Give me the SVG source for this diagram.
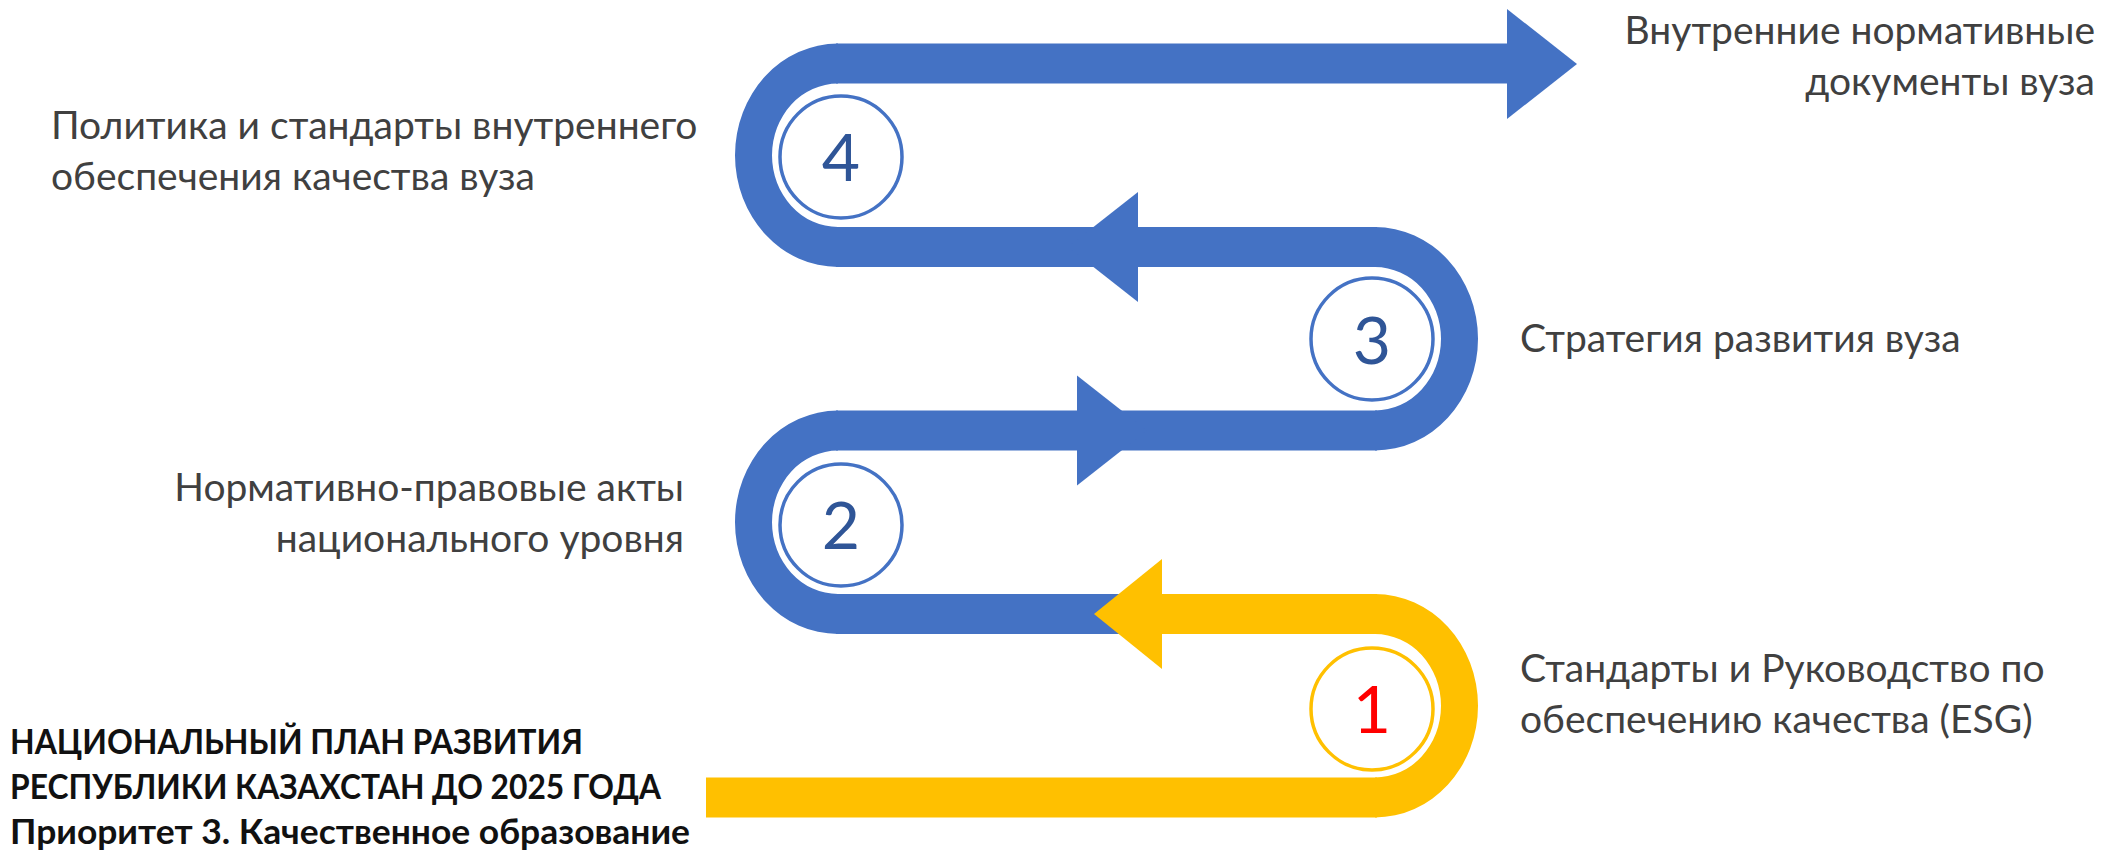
<svg xmlns="http://www.w3.org/2000/svg" width="2110" height="851" viewBox="0 0 2110 851">
<style>
.blue{fill:#4472C4}
.yellow{fill:#FFC000}
.ring{fill:#FFFFFF;stroke-width:3.5}
.rb{stroke:#4472C4}
.ry{stroke:#FFC000}
.num{font-family:Lato,"Open Sans","Noto Sans",sans-serif;font-size:66px;text-anchor:middle}
.nb{fill:#2F5597}
.nr{fill:#FF0000}
.lbl{font-family:Lato,"Open Sans","Noto Sans",sans-serif;font-size:39px;fill:#404040}
.bold{font-family:Lato,"Open Sans","Noto Sans",sans-serif;font-size:34px;font-weight:bold;fill:#111111}
</style>
<rect width="2110" height="851" fill="#FFFFFF"/>
<g id="connectors">
  <rect class="blue" x="836" y="43.5" width="673" height="40"/>
  <polygon class="blue" points="1507,9 1577,64 1507,119"/>
  <path class="blue" d="M838,43.5 A103,111.75 0 0 0 838,267 L838,227 A66,71.75 0 0 1 838,83.5 Z"/>
  <rect class="blue" x="836" y="227" width="541" height="40"/>
  <polygon class="blue" points="1138,192 1068,247 1138,302"/>
  <path class="blue" d="M1375,227 A103,111.75 0 0 1 1375,450.5 L1375,410.5 A66,71.75 0 0 0 1375,267 Z"/>
  <rect class="blue" x="836" y="410.5" width="541" height="40"/>
  <polygon class="blue" points="1077,375.5 1147,430.5 1077,485.5"/>
  <path class="blue" d="M838,410.5 A103,111.75 0 0 0 838,634 L838,594 A66,71.75 0 0 1 838,450.5 Z"/>
  <rect class="blue" x="836" y="594" width="296" height="40"/>
  <polygon class="yellow" points="1162,559 1094,614 1162,669"/>
  <rect class="yellow" x="1160" y="594" width="217" height="40"/>
  <path class="yellow" d="M1375,594 A103,111.75 0 0 1 1375,817.5 L1375,777.5 A66,71.75 0 0 0 1375,634 Z"/>
  <rect class="yellow" x="706" y="777.5" width="671" height="40"/>
</g>
<g id="node4">
  <circle class="ring rb" cx="841" cy="157" r="61"/>
  <text class="num nb" x="841" y="181">4</text>
</g>
<g id="node3">
  <circle class="ring rb" cx="1372" cy="339" r="61"/>
  <text class="num nb" x="1372" y="364">3</text>
</g>
<g id="node2">
  <circle class="ring rb" cx="841" cy="525" r="61"/>
  <text class="num nb" x="841" y="549">2</text>
</g>
<g id="node1">
  <circle class="ring ry" cx="1372" cy="709" r="61"/>
  <text class="num nr" x="1372" y="733">1</text>
</g>
<g id="label4">
  <text class="lbl" x="51" y="139">Политика и стандарты внутреннего</text>
  <text class="lbl" x="51" y="190">обеспечения качества вуза</text>
</g>
<g id="label3">
  <text class="lbl" x="1520" y="352">Стратегия развития вуза</text>
</g>
<g id="label2">
  <text class="lbl" x="684" y="501" text-anchor="end">Нормативно-правовые акты</text>
  <text class="lbl" x="684" y="552" text-anchor="end">национального уровня</text>
</g>
<g id="label1">
  <text class="lbl" x="1520" y="682">Стандарты и Руководство по</text>
  <text class="lbl" x="1520" y="733">обеспечению качества (ESG)</text>
</g>
<g id="label-out">
  <text class="lbl" x="2095" y="44" text-anchor="end">Внутренние нормативные</text>
  <text class="lbl" x="2095" y="95" text-anchor="end">документы вуза</text>
</g>
<g id="title">
  <text class="bold" x="10" y="754" textLength="573" lengthAdjust="spacingAndGlyphs">НАЦИОНАЛЬНЫЙ ПЛАН РАЗВИТИЯ</text>
  <text class="bold" x="10" y="799" textLength="651" lengthAdjust="spacingAndGlyphs">РЕСПУБЛИКИ КАЗАХСТАН ДО 2025 ГОДА</text>
  <text class="bold" x="10" y="844" textLength="680" lengthAdjust="spacingAndGlyphs">Приоритет 3. Качественное образование</text>
</g>
</svg>
